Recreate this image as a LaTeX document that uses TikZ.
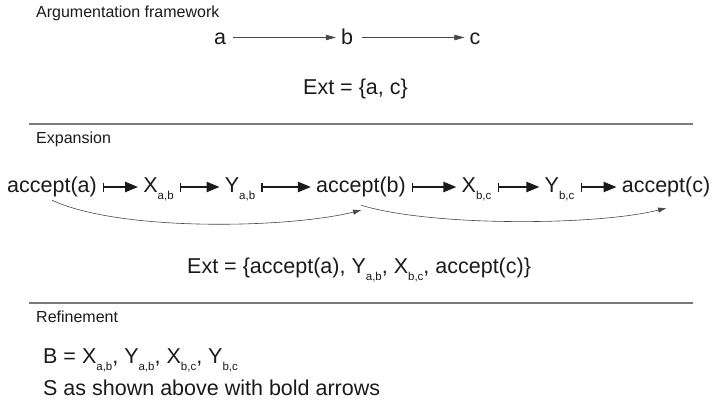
\documentclass[tikz,border=0pt]{standalone}
\usepackage{fontspec}
\setmainfont{Liberation Sans}
\usetikzlibrary{arrows.meta}
\definecolor{Ink}{HTML}{1A1A1A}
\definecolor{Rule}{HTML}{7A7A7A}
\newcommand{\lowsub}[1]{\raisebox{-7.5pt}{\fontsize{11.5}{12}\selectfont #1}}

\begin{document}
\begin{tikzpicture}[x=1pt,y=1pt,text=Ink,
    head/.style={font=\fontsize{16}{18}\selectfont,anchor=base west,inner sep=0pt},
    textline/.style={font=\fontsize{21.5}{24}\selectfont,anchor=base west,inner sep=0pt},
    arg/.style={font=\fontsize{21.5}{24}\selectfont,anchor=base,inner sep=2pt,text height=15pt,text depth=0pt},
    term/.style={font=\fontsize{21.5}{24}\selectfont,inner sep=3pt,text height=15pt,text depth=5pt},
    plain/.style={-{Triangle[length=10pt,width=5.5pt]},line width=.6pt,Ink!80},
    support/.style={{Bar[width=9pt,line width=1.4pt]}-{Triangle[length=13pt,width=10pt]},line width=2.2pt,Ink,shorten <=3pt,shorten >=2pt},
    attack/.style={-{Triangle[length=8pt,width=5pt]},line width=.6pt,Ink!80}]
    \useasboundingbox (0,0) rectangle (711,-401);
    % argumentation framework
    \node[head] (frame) at (36,-18) {Argumentation framework};
    \node[arg] (a) at (220,-45) {a};
    \node[arg] (b) at (347,-45) {b};
    \node[arg] (c) at (475,-45) {c};
    \draw[plain,shorten <=5pt,shorten >=3pt] (a)--(b);
    \draw[plain,shorten <=7pt,shorten >=3pt] (b)--(c);
    \node[textline] (ext) at (303,-95) {Ext = \{a, c\}};
    \draw[Rule,line width=1.1pt] (29,-124)--(693,-124);
    % expansion
    \node[head] (expansion) at (36,-143) {Expansion};
    \node[term] (acca) at (52,-187) {accept(a)};
    \node[term] (xab) at (158.5,-187) {X\lowsub{a,b}};
    \node[term] (yab) at (240,-187) {Y\lowsub{a,b}};
    \node[term] (accb) at (361,-187) {accept(b)};
    \node[term] (xbc) at (476.5,-187) {X\lowsub{b,c}};
    \node[term] (ybc) at (559.5,-187) {Y\lowsub{b,c}};
    \node[term] (accc) at (666,-187) {accept(c)};
    \draw[support] (acca)--(xab);
    \draw[support] (xab)--(yab);
    \draw[support] (yab)--(accb);
    \draw[support] (accb)--(xbc);
    \draw[support] (xbc)--(ybc);
    \draw[support] (ybc)--(accc);
    \draw[attack] (acca.south) to[out=-25,in=194,distance=75pt] ([yshift=-10pt]accb.south);
    \draw[attack] ([yshift=-5pt]accb.south) to[out=-17,in=194,distance=73pt] ([yshift=-8pt]accc.south);
    \node[textline] (extexp) at (187,-273) {Ext = \{accept(a), Y\lowsub{a,b}, X\lowsub{b,c}, accept(c)\}};
    \draw[Rule,line width=1.1pt] (29,-303)--(693,-303);
    % refinement
    \node[head] (refinement) at (36,-322) {Refinement};
    \node[textline] (bset) at (43,-363) {B = X\lowsub{a,b}, Y\lowsub{a,b}, X\lowsub{b,c}, Y\lowsub{b,c}};
    \node[textline] (sset) at (43,-395) {S as shown above with bold arrows};
\end{tikzpicture}
\end{document}
